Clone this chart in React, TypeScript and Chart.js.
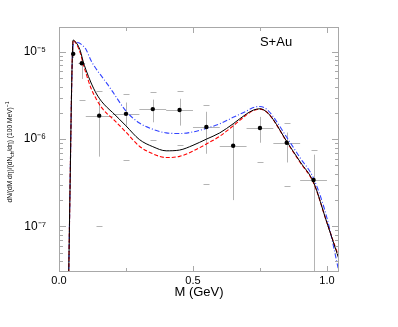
import React, { useEffect, useRef } from "react";
import { Chart, registerables } from "chart.js";

Chart.register(...registerables);

// ---- data ----
const massGrid = [0.036, 0.042, 0.046, 0.05, 0.053, 0.06, 0.07, 0.08, 0.09, 0.1, 0.12, 0.14, 0.16, 0.18, 0.2, 0.25, 0.3, 0.35, 0.4, 0.45, 0.5, 0.55, 0.6, 0.65, 0.7, 0.725, 0.75, 0.775, 0.8, 0.85, 0.9, 0.95, 1.0, 1.045];
const blackCurve = [2.5e-8, 4e-7, 2.5e-6, 9.5e-6, 1.37e-5, 1.32e-5, 1.2e-5, 1.02e-5, 7.8e-6, 6.3e-6, 4.4e-6, 3.3e-6, 2.68e-6, 2.3e-6, 2.02e-6, 1.42e-6, 9.9e-7, 8.2e-7, 7.35e-7, 7.5e-7, 8.5e-7, 1.0e-6, 1.18e-6, 1.5e-6, 1.95e-6, 2.15e-6, 2.23e-6, 2.05e-6, 1.67e-6, 9.4e-7, 5.5e-7, 3.2e-7, 1.1e-7, 4.2e-8];
const redCurve = [2.5e-8, 4e-7, 2.5e-6, 9.5e-6, 1.37e-5, 1.3e-5, 1.15e-5, 9.6e-6, 7.3e-6, 5.8e-6, 3.8e-6, 2.85e-6, 2.28e-6, 1.95e-6, 1.72e-6, 1.2e-6, 8.3e-7, 6.8e-7, 6.15e-7, 6.35e-7, 7.3e-7, 8.8e-7, 1.08e-6, 1.42e-6, 1.9e-6, 2.12e-6, 2.21e-6, 2.05e-6, 1.66e-6, 9.3e-7, 5.4e-7, 3.15e-7, 1.1e-7, 4.4e-8];
const blueCurve = [2.5e-8, 4e-7, 2.4e-6, 9e-6, 1.2e-5, 1.3e-5, 1.28e-5, 1.24e-5, 1.17e-5, 1.08e-5, 7.9e-6, 6.3e-6, 5.2e-6, 4.3e-6, 3.5e-6, 2.1e-6, 1.53e-6, 1.3e-6, 1.18e-6, 1.16e-6, 1.21e-6, 1.33e-6, 1.5e-6, 1.78e-6, 2.1e-6, 2.3e-6, 2.37e-6, 2.2e-6, 1.8e-6, 1.05e-6, 6.1e-7, 3.55e-7, 1.25e-7, 3.0e-8];

const pointMass = [0.053, 0.085, 0.15, 0.25, 0.35, 0.45, 0.55, 0.65, 0.75, 0.85, 0.95];
const pointValue = [9.5e-6, 7.4e-6, 1.86e-6, 1.95e-6, 2.21e-6, 2.16e-6, 1.38e-6, 8.4e-7, 1.34e-6, 9.1e-7, 3.4e-7];
const pointMassErr = [0.008, 0.0125, 0.05, 0.05, 0.05, 0.05, 0.05, 0.05, 0.05, 0.05, 0.05];
const statLow = [8.5e-6, 4.9e-6, 6.3e-7, 1.43e-6, 1.56e-6, 1.43e-6, 6.8e-7, 2.0e-7, 9.1e-7, 5.4e-7, 1e-8];
const statHigh = [1.1e-5, 8.5e-6, 2.75e-6, 2.63e-6, 2.84e-6, 2.9e-6, 2.06e-6, 1.5e-6, 1.8e-6, 1.19e-6, 6.65e-7];
const sysLow: (number | null)[] = [null, 2.8e-6, 1.0e-7, 5.7e-7, 9.9e-7, 8.5e-7, 3.1e-7, null, 5.4e-7, 2.9e-7, null];
const sysHigh: (number | null)[] = [null, null, 3.58e-6, 3.3e-6, 3.47e-6, 3.58e-6, 2.48e-6, null, null, 1.54e-6, 7.6e-7];

const xMajorTicks = [0, 0.5, 1.0];
const xMinorTicks = [0.25, 0.75];
const yMajorTicks = [1e-7, 1e-6, 1e-5];
const yTickLabels = ["10\u207B\u2077", "10\u207B\u2076", "10\u207B\u2075"];
const panelLabel = "S+Au";

const FONT = "'Liberation Sans', Arial, Helvetica, sans-serif";
const AXIS_GREY = "#a8a8a8";
const ERR_GREY = "#b4b4b4";

const decorPlugin = {
  id: "decor",
  beforeDatasetsDraw(chart: any) {
    const ctx = chart.ctx;
    const xs = chart.scales.x;
    const ys = chart.scales.y;
    const a = chart.chartArea;
    ctx.save();
    ctx.beginPath();
    ctx.rect(a.left, a.top, a.right - a.left, a.bottom - a.top);
    ctx.clip();
    ctx.strokeStyle = ERR_GREY;
    ctx.lineWidth = 1;
    for (let i = 0; i < pointMass.length; i++) {
      const px = Math.round(xs.getPixelForValue(pointMass[i])) + 0.5;
      const py = Math.round(ys.getPixelForValue(pointValue[i])) + 0.5;
      ctx.beginPath();
      ctx.moveTo(xs.getPixelForValue(pointMass[i] - pointMassErr[i]), py);
      ctx.lineTo(xs.getPixelForValue(pointMass[i] + pointMassErr[i]), py);
      ctx.moveTo(px, ys.getPixelForValue(statLow[i]));
      ctx.lineTo(px, ys.getPixelForValue(statHigh[i]));
      ctx.stroke();
      [sysLow[i], sysHigh[i]].forEach((v) => {
        if (v == null) return;
        const sy = Math.round(ys.getPixelForValue(v)) + 0.5;
        ctx.beginPath();
        ctx.moveTo(px - 3, sy);
        ctx.lineTo(px + 3, sy);
        ctx.stroke();
      });
    }
    ctx.restore();
  },
  afterDraw(chart: any) {
    const ctx = chart.ctx;
    const xs = chart.scales.x;
    const ys = chart.scales.y;
    const a = chart.chartArea;
    ctx.save();
    ctx.strokeStyle = AXIS_GREY;
    ctx.lineWidth = 1;
    ctx.strokeRect(a.left + 0.5, a.top + 0.5, a.right - a.left - 1, a.bottom - a.top - 1);
    ctx.beginPath();
    const xt = (v: number, len: number) => {
      const p = Math.round(xs.getPixelForValue(v)) + 0.5;
      ctx.moveTo(p, a.bottom);
      ctx.lineTo(p, a.bottom - len);
      ctx.moveTo(p, a.top);
      ctx.lineTo(p, a.top + len);
    };
    xMajorTicks.forEach((v) => xt(v, 6));
    xMinorTicks.forEach((v) => xt(v, 4));
    const yt = (v: number, len: number) => {
      const p = Math.round(ys.getPixelForValue(v)) + 0.5;
      if (p < a.top || p > a.bottom) return;
      ctx.moveTo(a.left, p);
      ctx.lineTo(a.left + len, p);
      ctx.moveTo(a.right, p);
      ctx.lineTo(a.right - len, p);
    };
    for (let e = -8; e <= -5; e++) {
      for (let k = 1; k <= 9; k++) {
        const v = k * Math.pow(10, e);
        yt(v, k === 1 ? 7 : 4);
      }
    }
    ctx.stroke();

    ctx.fillStyle = "#000";
    ctx.font = `13px ${FONT}`;
    ctx.textAlign = "center";
    ctx.textBaseline = "middle";
    ctx.fillText(panelLabel, xs.getPixelForValue(0.81), ys.getPixelForValue(1.27e-5));

    ctx.translate(10, 152);
    ctx.rotate(-Math.PI / 2);
    const big = `8px ${FONT}`;
    const small = `6px ${FONT}`;
    const parts: [string, string, number][] = [
      ["dN/(dM d\u03B7)/(dN", big, 0],
      ["ch", small, 2],
      ["/d\u03B7) (100 MeV)", big, 0],
      ["\u22121", small, -3],
    ];
    let total = 0;
    parts.forEach(([t, f]) => {
      ctx.font = f;
      total += ctx.measureText(t).width;
    });
    const target = 101;
    ctx.scale(target / total, 1);
    let x = -total / 2;
    ctx.textAlign = "left";
    parts.forEach(([t, f, dy]) => {
      ctx.font = f;
      ctx.fillText(t, x, dy);
      x += ctx.measureText(t).width;
    });
    ctx.restore();
  },
};

export default function App() {
  const ref = useRef<HTMLCanvasElement | null>(null);
  useEffect(() => {
    document.body.style.margin = "0";
    const toXY = (ys: number[]) => massGrid.map((m, i) => ({ x: m, y: ys[i] }));
    const chart = new Chart(ref.current!, {
      type: "scatter",
      data: {
        datasets: [
          {
            label: "data",
            data: pointMass.map((m, i) => ({ x: m, y: pointValue[i] })),
            backgroundColor: "#000",
            borderColor: "#000",
            borderWidth: 0,
            pointRadius: 2.2,
            showLine: false,
          },
          {
            label: "black",
            data: toXY(blackCurve),
            showLine: true,
            borderColor: "#000",
            borderWidth: 1,
            pointRadius: 0,
            cubicInterpolationMode: "monotone",
          },
          {
            label: "red",
            data: toXY(redCurve),
            showLine: true,
            borderColor: "#ff0000",
            borderWidth: 1.1,
            borderDash: [4, 2],
            pointRadius: 0,
            cubicInterpolationMode: "monotone",
          },
          {
            label: "blue",
            data: toXY(blueCurve),
            showLine: true,
            borderColor: "#3344ff",
            borderWidth: 1.1,
            borderDash: [5, 2, 1, 2],
            pointRadius: 0,
            cubicInterpolationMode: "monotone",
          },
        ] as any,
      },
      options: {
        animation: false,
        responsive: true,
        maintainAspectRatio: false,
        layout: { padding: { top: 27, right: 59, left: 0, bottom: 27 } },
        plugins: { legend: { display: false }, tooltip: { enabled: false } },
        scales: {
          x: {
            type: "linear",
            min: 0,
            max: 1.045,
            grid: { display: false, drawTicks: false },
            border: { display: false },
            afterBuildTicks: (s: any) => {
              s.ticks = xMajorTicks.map((v) => ({ value: v }));
            },
            afterFit: (s: any) => {
              s.height = 28;
            },
            ticks: {
              padding: 2,
              color: "#000",
              font: { size: 11, family: FONT },
              maxRotation: 0,
              callback: (v: any) => Number(v).toFixed(1),
            },
            title: {
              display: true,
              text: "M (GeV)",
              color: "#000",
              font: { size: 13, family: FONT },
              padding: 0,
            },
          },
          y: {
            type: "logarithmic",
            min: 3.06e-8,
            max: 1.93e-5,
            grid: { display: false, drawTicks: false },
            border: { display: false },
            afterBuildTicks: (s: any) => {
              s.ticks = yMajorTicks.map((v) => ({ value: v }));
            },
            afterFit: (s: any) => {
              s.width = 59;
            },
            ticks: {
              padding: 13,
              color: "#000",
              font: { size: 12, family: FONT },
              callback: (v: any) => {
                const i = yMajorTicks.findIndex((t) => Math.abs(t - v) / t < 1e-6);
                return i >= 0 ? yTickLabels[i] : "";
              },
            },
          },
        },
      } as any,
      plugins: [decorPlugin],
    });
    return () => chart.destroy();
  }, []);
  return (
    <div style={{ position: "absolute", left: 0, top: 0, width: 398, height: 327, background: "#fff" }}>
      <canvas ref={ref} />
    </div>
  );
}
